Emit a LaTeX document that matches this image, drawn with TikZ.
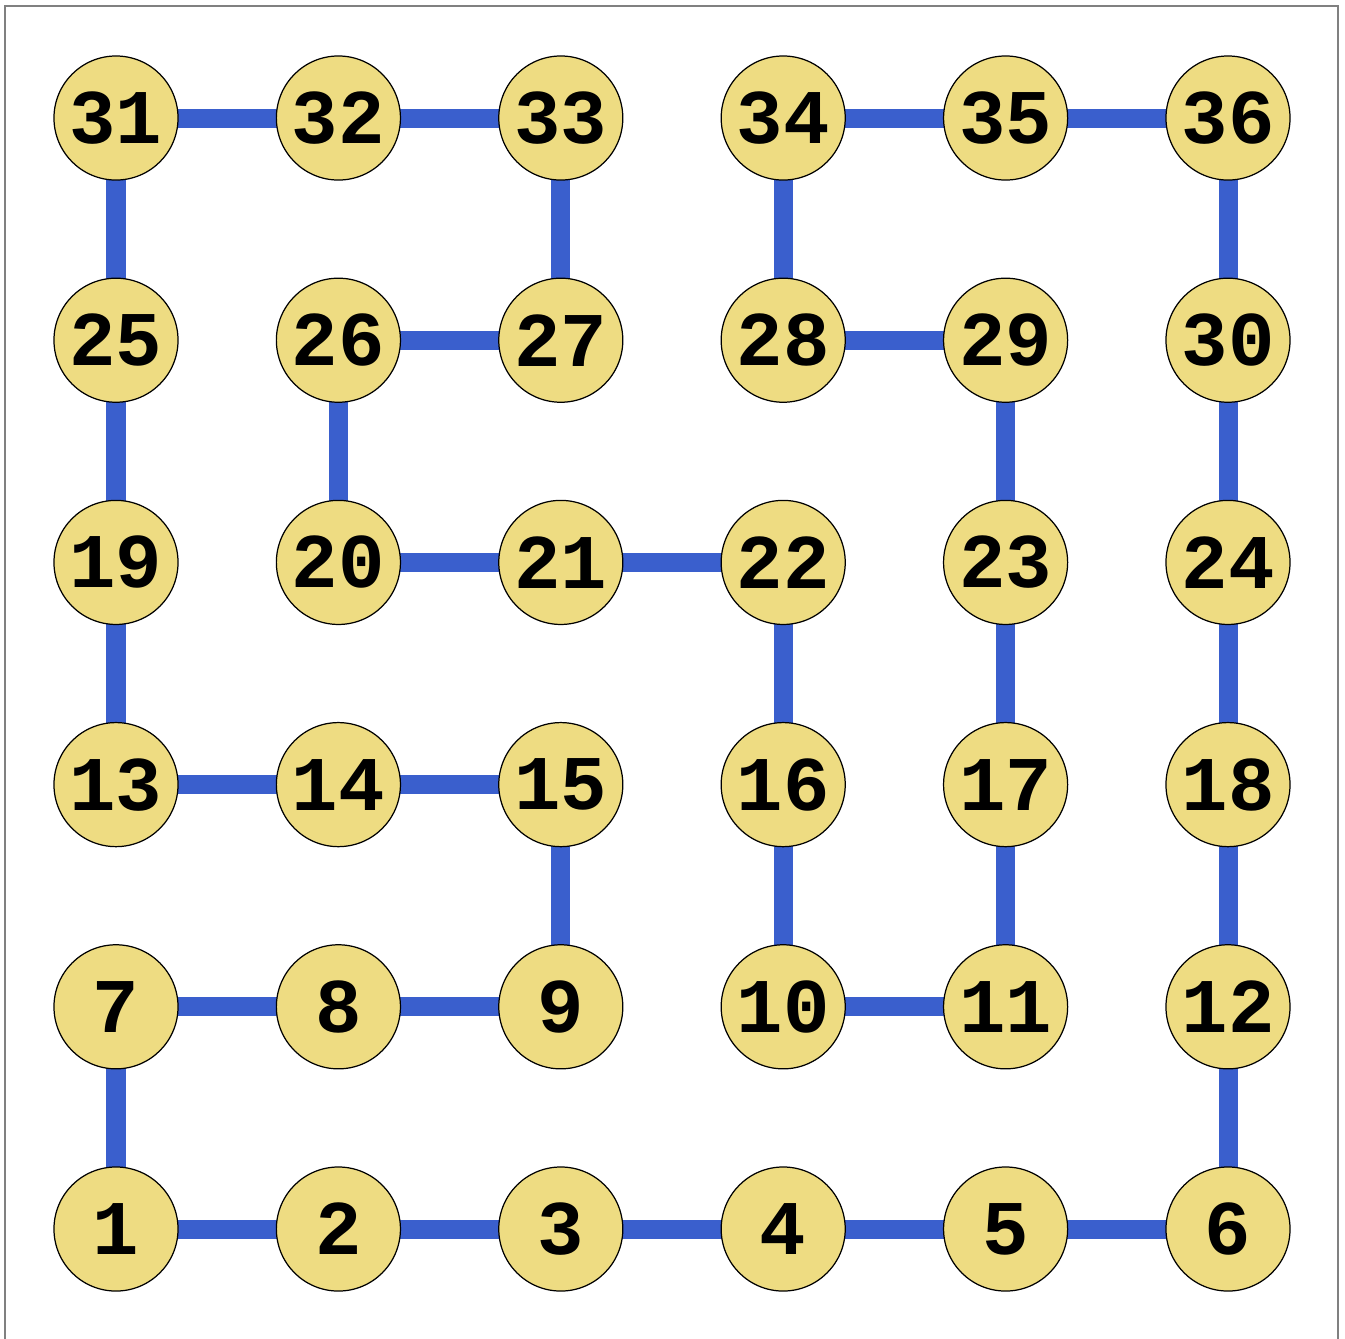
\documentclass[tikz,border=0pt]{standalone}
\usepackage{fontspec}
\setmonofont{Liberation Mono}
\usetikzlibrary{backgrounds}
\definecolor{cellfill}{HTML}{EEDC82}
\definecolor{pathblue}{HTML}{3A5FCD}
\tikzset{
  cell/.style={circle, draw=black, line width=0.35pt, fill=cellfill, inner sep=0pt, minimum size=1.24cm, font=\ttfamily\bfseries\fontsize{22}{22}\selectfont},
  link/.style={pathblue, line width=0.19cm}}

\begin{document}
\begin{tikzpicture}[x=0.01cm, y=-0.01cm]
\useasboundingbox (0,0) rectangle (1345,1338);
\draw[black!50, line width=0.6pt] (5,6) rectangle (1338,1360);
\foreach \r in {0,...,5}
  \foreach \c in {0,...,5}{
    \pgfmathtruncatemacro{\k}{6*\r+\c+1}
    \node[cell] (n\k) at ({116+222.4*\c}, {1229-222.2*\r}) {\k};
  }
\begin{scope}[on background layer]
\foreach \a/\b in {1/2,2/3,3/4,4/5,5/6,1/7,6/12,7/8,8/9,9/15,10/11,10/16,11/17,12/18,
  13/14,14/15,13/19,16/22,17/23,18/24,19/25,20/21,21/22,20/26,23/29,24/30,
  25/31,26/27,27/33,28/29,28/34,30/36,31/32,32/33,34/35,35/36}
  \draw[link] (n\a.center) -- (n\b.center);
\end{scope}
\end{tikzpicture}
\end{document}
